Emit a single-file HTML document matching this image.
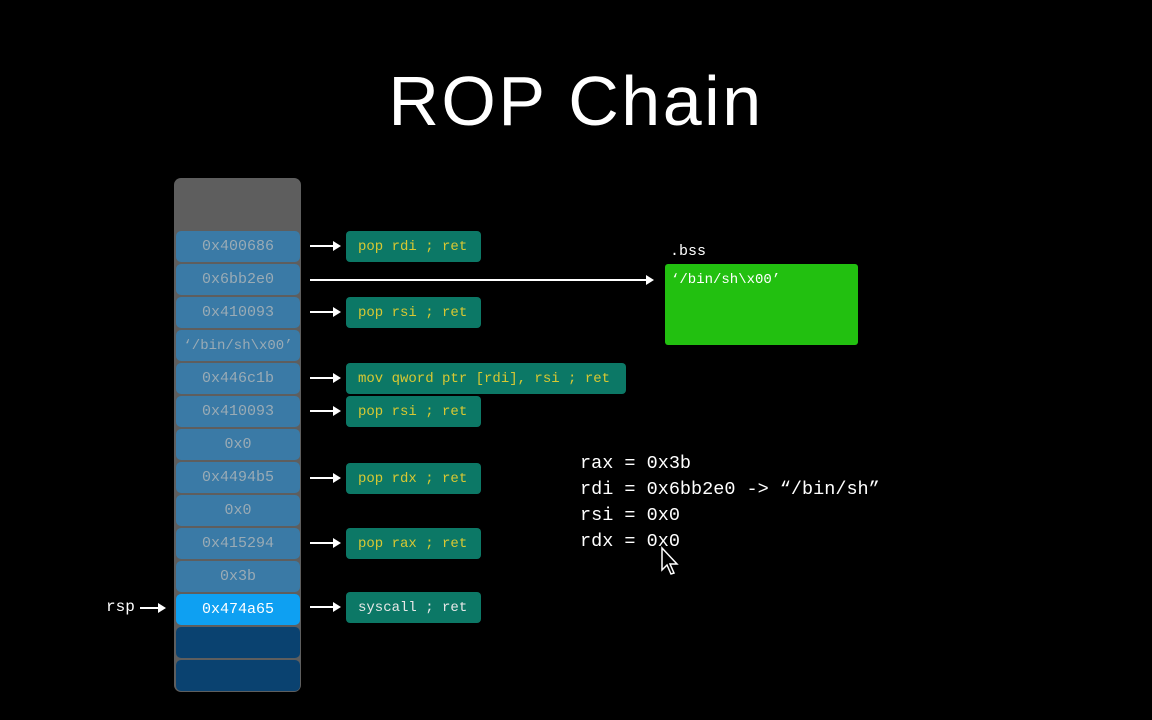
<!DOCTYPE html>
<html><head><style>
body{margin:0;background:#000;width:1152px;height:720px;overflow:hidden;position:relative;font-family:"Liberation Mono","DejaVu Sans Mono",monospace}
.a{position:absolute}
.title{left:0;width:1152px;top:61px;text-align:center;font-family:"Liberation Sans",sans-serif;font-size:70px;letter-spacing:2.5px;color:#fff}
.stack{left:174px;top:178px;width:127px;height:514px;background:#5e5e5e;border-radius:7px}
.c{position:absolute;left:176px;width:124px;height:31px;background:#3a7aa6;border-radius:5px;color:#9aabb5;font-size:15px;line-height:32px;text-align:center}
.g{position:absolute;left:346px;height:31px;background:#0c7866;border-radius:4px;color:#d8c832;font-size:14px;line-height:32px;padding-left:12px;box-sizing:border-box}
.ar{position:absolute;left:310px;width:27px;height:2px;background:#fff}
.ar:after{content:"";position:absolute;right:-4px;top:-4px;border-left:8px solid #fff;border-top:5px solid transparent;border-bottom:5px solid transparent}
.r{position:absolute;left:580px;color:#fff;font-size:18.5px}
</style></head><body>
<div class="a title">ROP Chain</div>
<div class="a stack"></div>
<div class="c" style="top:231px">0x400686</div>
<div class="c" style="top:264px">0x6bb2e0</div>
<div class="c" style="top:297px">0x410093</div>
<div class="c" style="top:330px;font-size:14px">‘/bin/sh\x00’</div>
<div class="c" style="top:363px">0x446c1b</div>
<div class="c" style="top:396px">0x410093</div>
<div class="c" style="top:429px">0x0</div>
<div class="c" style="top:462px">0x4494b5</div>
<div class="c" style="top:495px">0x0</div>
<div class="c" style="top:528px">0x415294</div>
<div class="c" style="top:561px">0x3b</div>
<div class="c" style="top:594px;background:#0ea0f2;color:#fff">0x474a65</div>
<div class="c" style="top:627px;background:#0a4270"></div>
<div class="c" style="top:660px;background:#0a4270"></div>

<div class="ar" style="top:245px"></div>
<div class="ar" style="top:311px"></div>
<div class="ar" style="top:377px"></div>
<div class="ar" style="top:410px"></div>
<div class="ar" style="top:477px"></div>
<div class="ar" style="top:542px"></div>
<div class="ar" style="top:606px"></div>
<div class="ar" style="top:279px;width:340px"></div>
<div class="ar" style="top:607px;left:140px;width:22px"></div>
<div class="a" style="left:106px;top:598px;color:#fff;font-size:16px">rsp</div>

<div class="g" style="top:231px;width:135px">pop rdi ; ret</div>
<div class="g" style="top:297px;width:135px">pop rsi ; ret</div>
<div class="g" style="top:363px;width:280px">mov qword ptr [rdi], rsi ; ret</div>
<div class="g" style="top:396px;width:135px">pop rsi ; ret</div>
<div class="g" style="top:463px;width:135px">pop rdx ; ret</div>
<div class="g" style="top:528px;width:135px">pop rax ; ret</div>
<div class="g" style="top:592px;width:135px;color:#e8e8e8">syscall ; ret</div>

<div class="a" style="left:670px;top:243px;color:#fff;font-size:15px">.bss</div>
<div class="a" style="left:665px;top:264px;width:193px;height:81px;background:#22c010;border-radius:3px"></div>
<div class="a" style="left:671px;top:272px;color:#fff;font-size:14px">‘/bin/sh\x00’</div>

<div class="r" style="top:453px">rax = 0x3b</div>
<div class="r" style="top:479px">rdi = 0x6bb2e0 -&gt; “/bin/sh”</div>
<div class="r" style="top:505px">rsi = 0x0</div>
<div class="r" style="top:531px">rdx = 0x0</div>
<svg class="a" style="left:660px;top:546px" width="24" height="32"><path d="M2 2 L2 24 L7 19 L11 28 L14 27 L10 18 L17 18 Z" fill="#000" stroke="#fff" stroke-width="1.5"/></svg>
</body></html>
